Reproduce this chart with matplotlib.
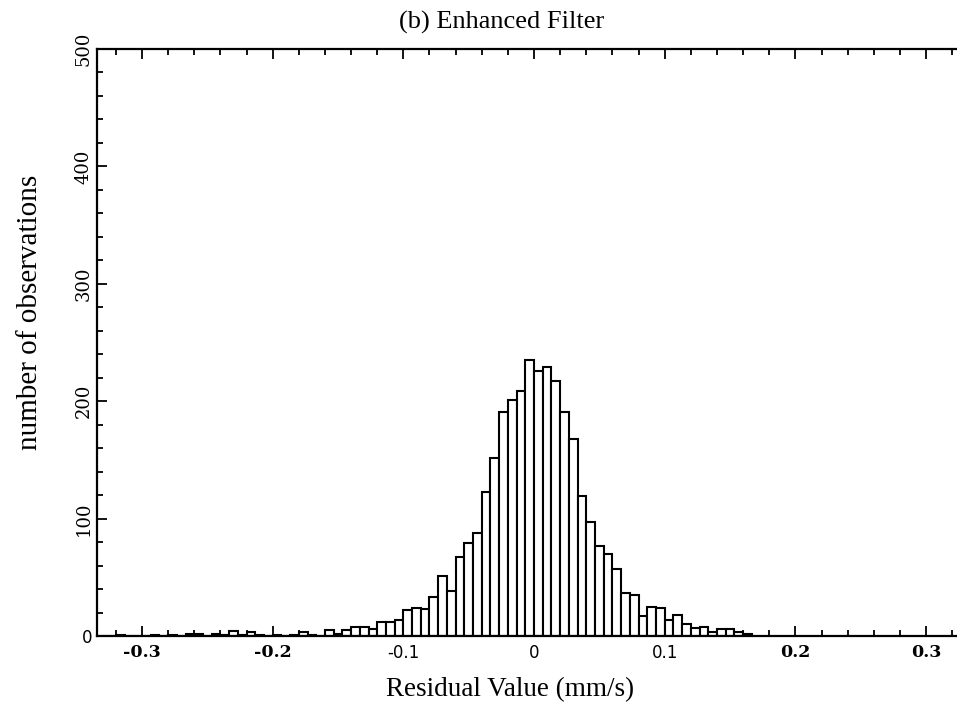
import numpy as np
import matplotlib.pyplot as plt
from matplotlib.ticker import MultipleLocator

# histogram of residuals, bins of width 1/150 mm/s, bin index k -> [k/150, (k+1)/150]
bin_index = list(range(-50, 25))
counts = [0, 0, 1, 0, 0, 0, 1, 0, 1, 0,
          2, 2, 0, 2, 1, 4, 1, 3, 1, 0,
          1, 0, 1, 3, 1, 0, 5, 2, 5, 8,
          8, 6, 12, 12, 14, 22, 24, 23, 33, 51,
          38, 67, 79, 88, 123, 152, 191, 201, 209, 235,
          226, 229, 217, 191, 168, 119, 97, 77, 70, 57,
          37, 35, 17, 25, 24, 14, 18, 10, 7, 8,
          3, 6, 6, 3, 2]
bin_width = 1 / 150

x_ticks = [-0.3, -0.2, -0.1, 0, 0.1, 0.2, 0.3]
x_tick_labels = ["-0.3", "-0.2", "-0.1", "0", "0.1", "0.2", "0.3"]
y_ticks = [0, 100, 200, 300, 400, 500]
y_tick_labels = ["0", "100", "200", "300", "400", "500"]

plt.rcParams["font.family"] = ["Liberation Serif", "DejaVu Serif"]

fig = plt.figure(figsize=(9.57, 7.16), dpi=100)
ax = fig.add_axes([97 / 957, 1 - 636 / 716, 1 - 97 / 957, (636 - 49) / 716])

lefts = np.array(bin_index) * bin_width
ax.bar(lefts, counts, width=bin_width, align="edge", color="white",
       edgecolor="black", linewidth=1.5)

ax.set_xlim(-0.3344, 0.3236)
ax.set_ylim(0, 500)

for side in ["left", "top", "bottom"]:
    ax.spines[side].set_linewidth(1.6)
ax.spines["right"].set_visible(False)

ax.set_xticks(x_ticks)
ax.set_xticklabels(x_tick_labels)
ax.set_yticks(y_ticks)
ax.set_yticklabels(y_tick_labels)
ax.xaxis.set_minor_locator(MultipleLocator(0.02))
ax.yaxis.set_minor_locator(MultipleLocator(20))
ax.tick_params(which="both", direction="in", top=True, right=False, width=1.3)
ax.tick_params(which="major", length=7)
ax.tick_params(which="minor", length=4)
ax.tick_params(axis="x", pad=6)
ax.tick_params(axis="y", pad=3)

for lab in ax.get_xticklabels():
    if lab.get_text() in ("-0.1", "0.1", "0"):
        lab.set_family("DejaVu Sans")
        lab.set_fontsize(12)
    else:
        lab.set_family("DejaVu Serif")
        lab.set_fontweight("bold")
        lab.set_fontsize(12.5)

for lab in ax.get_yticklabels():
    if lab.get_text() != "0":
        lab.set_family("DejaVu Serif")
        lab.set_fontsize(13)
        lab.set_rotation(90)
        lab.set_va("center")
    else:
        lab.set_family("DejaVu Sans")
        lab.set_fontsize(12)

fig.text(502 / 957, 1 - 22 / 716, "(b) Enhanced Filter", ha="center", va="center",
         fontsize=19)
fig.text(510 / 957, 1 - 690 / 716, "Residual Value (mm/s)", ha="center", va="center",
         fontsize=19.5)
fig.text(30 / 957, 1 - 312 / 716, "number of observations", ha="center", va="center",
         rotation=90, fontsize=21)

plt.savefig("out.png", dpi=100)
